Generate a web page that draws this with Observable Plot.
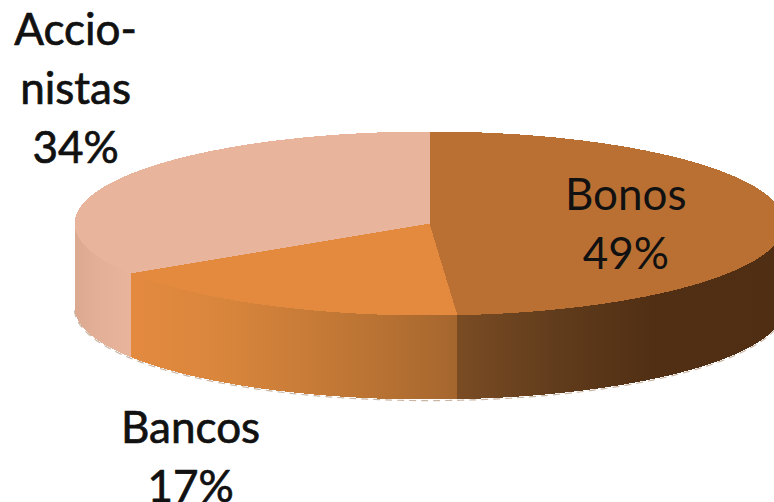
<!DOCTYPE html>
<html>
<head>
<meta charset="utf-8">
<script src="https://cdn.jsdelivr.net/npm/d3@7"></script>
<script src="https://cdn.jsdelivr.net/npm/@observablehq/plot@0.6"></script>
<style>html,body{margin:0;padding:0;background:#fff;overflow:hidden}svg{display:block}</style>
</head>
<body>
<div id="chart"></div>
<script>
// Data
const categories = ["Bonos", "Bancos", "Accionistas"];
const shares = [48.75, 17.15, 34.1];
const labelLines = [["Bonos"], ["Bancos"], ["Accio-", "nistas"]];
const topColors = ["#BA7033", "#E38A3F", "#E8B49B"];
const sideStops = [
  [[0, "#7A4C24"], [0.3, "#613C1C"], [0.6, "#512F14"], [1, "#502E14"]],
  [[0, "#E38A3F"], [0.3, "#D8853C"], [0.7, "#BD7534"], [1, "#A5662E"]],
  [[0, "#DBA98F"], [0.4, "#E3B097"], [1, "#E8B49B"]]
];

// Pie geometry in radius units (x) and squashed radius units (y)
const width = 774, height = 502;
const cx = 429, cy = 223, rx = 355, ry = 92, depth = 84 / 92;
const labelX = [0.553, -0.673, -0.997];
const labelY = [-0.03, 2.5, -1.5];
const labelHeavy = [false, true, true];

const toPoint = (deg, drop = 0) => {
  const t = deg * Math.PI / 180;
  return { x: Math.sin(t), y: -Math.cos(t) + drop };
};
const arc = (a0, a1, drop = 0) => {
  const n = Math.max(2, Math.ceil(Math.abs(a1 - a0)));
  return d3.range(n + 1).map(i => toPoint(a0 + (a1 - a0) * i / n, drop));
};

let start = 0;
const slices = categories.map((name, i) => {
  const a0 = start, a1 = start + shares[i] * 3.6;
  start = a1;
  return { name, i, a0, a1 };
});

const topMark = s => Plot.line(
  [{ x: 0, y: 0 }, ...arc(s.a0, s.a1)],
  { x: "x", y: "y", fill: topColors[s.i], stroke: "none", curve: "linear", shapeRendering: "crispEdges" }
);
const sideMark = s => {
  const a0 = Math.max(s.a0, 90), a1 = Math.min(s.a1, 270);
  return Plot.line(
    [...arc(a0, a1), ...arc(a1, a0, depth)],
    { x: "x", y: "y", fill: `url(#side${s.i})`, stroke: "none", curve: "linear", shapeRendering: "crispEdges" }
  );
};
const defs = () => d3.create("svg:defs").html(sideStops.map((stops, i) =>
  `<linearGradient id="side${i}" x1="0" x2="1" y1="0" y2="0">` +
  stops.map(([o, c]) => `<stop offset="${o}" stop-color="${c}"/>`).join("") +
  `</linearGradient>`).join("")).node();

const labels = categories.map((name, i) => ({
  text: [...labelLines[i], Math.round(shares[i]) + "%"].join("\n"),
  x: labelX[i], y: labelY[i], heavy: labelHeavy[i]
}));
const textStyle = {
  x: "x", y: "y", text: "text",
  fontFamily: "Lato", fontSize: 44, lineHeight: 1.34,
  fill: "#111", textAnchor: "middle"
};

const chart = Plot.plot({
  width, height,
  margin: 0,
  x: { domain: [-cx / rx, (width - cx) / rx], range: [0, width], axis: null },
  y: { domain: [-cy / ry, (height - cy) / ry], range: [0, height], axis: null },
  style: { background: "#fff", overflow: "hidden" },
  marks: [
    defs,
    Plot.line(arc(90, 270, depth + 0.012), {
      x: "x", y: "y", stroke: "#c9b5a4", strokeWidth: 1.2, strokeDasharray: "6 6", curve: "linear"
    }),
    ...slices.map(sideMark),
    ...slices.map(topMark),
    Plot.text(labels.filter(d => !d.heavy), textStyle),
    Plot.text(labels.filter(d => d.heavy), { ...textStyle, stroke: "#111", strokeWidth: 0.7 })
  ]
});
document.getElementById("chart").append(chart);
</script>
</body>
</html>
